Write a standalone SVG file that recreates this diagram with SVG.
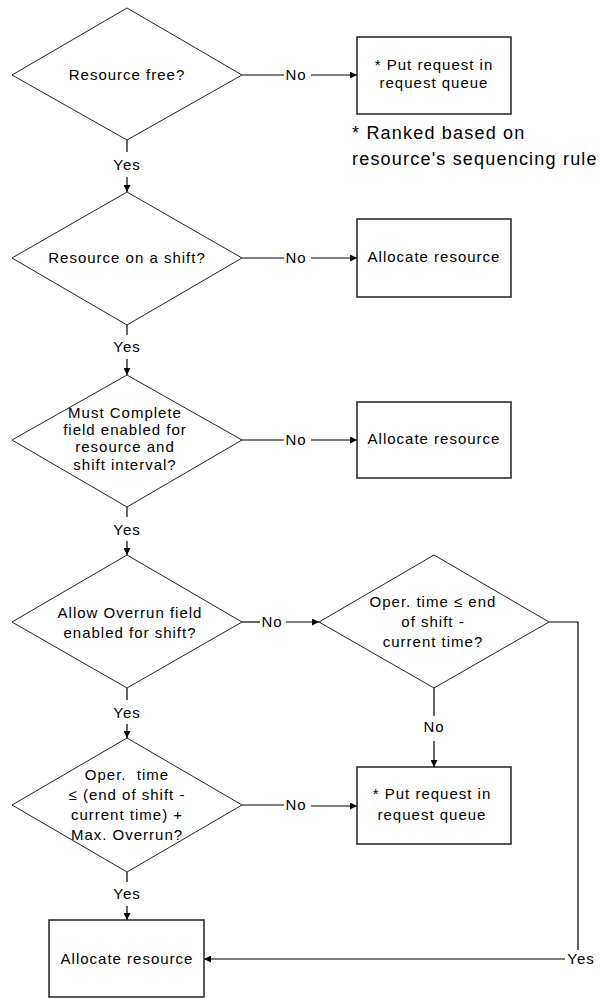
<svg xmlns="http://www.w3.org/2000/svg" width="600" height="998" viewBox="0 0 600 998">
<style>
text{font-family:"Liberation Sans",Arial,sans-serif;font-size:15px;letter-spacing:1px;fill:#000;text-anchor:middle}
.note{font-size:18px;letter-spacing:1.2px;text-anchor:start}
.dia{fill:#fff;stroke:#222;stroke-width:1}
.box{fill:#fff;stroke:#222;stroke-width:1.5}
.ln{fill:none;stroke:#000;stroke-width:1.2}
.ar{marker-end:url(#ah)}
</style>
<defs>
<marker id="ah" viewBox="0 0 10 10" refX="10" refY="5" markerWidth="7" markerHeight="7" markerUnits="userSpaceOnUse" orient="auto">
<path d="M0,0 L10,5 L0,10 Z" fill="#000"/>
</marker>
</defs>
<rect width="600" height="998" fill="#fff"/>
<g id="connectors">
<line class="ln" x1="127" y1="140" x2="127" y2="152"/>
<text x="127" y="170">Yes</text>
<line class="ln ar" x1="127" y1="177" x2="127" y2="192"/>
<line class="ln" x1="242" y1="75" x2="284" y2="75"/>
<text x="296" y="80">No</text>
<line class="ln ar" x1="311" y1="75" x2="357" y2="75"/>
<line class="ln" x1="127" y1="325" x2="127" y2="335"/>
<text x="127" y="352">Yes</text>
<line class="ln ar" x1="127" y1="359" x2="127" y2="375"/>
<line class="ln" x1="242" y1="258" x2="284" y2="258"/>
<text x="296" y="263">No</text>
<line class="ln ar" x1="311" y1="258" x2="357" y2="258"/>
<line class="ln" x1="127" y1="507" x2="127" y2="517"/>
<text x="127" y="535">Yes</text>
<line class="ln ar" x1="127" y1="541" x2="127" y2="555"/>
<line class="ln" x1="242" y1="440" x2="284" y2="440"/>
<text x="296" y="445">No</text>
<line class="ln ar" x1="311" y1="440" x2="357" y2="440"/>
<line class="ln" x1="242" y1="622" x2="260" y2="622"/>
<text x="272" y="627">No</text>
<line class="ln ar" x1="286" y1="622" x2="319" y2="622"/>
<polyline class="ln" points="549,622 578,622 578,950"/>
<text x="581" y="964">Yes</text>
<line class="ln ar" x1="565" y1="959" x2="204" y2="959"/>
<line class="ln" x1="434" y1="688" x2="434" y2="716"/>
<text x="434" y="732">No</text>
<line class="ln ar" x1="434" y1="741" x2="434" y2="767"/>
<line class="ln" x1="127" y1="688" x2="127" y2="700"/>
<text x="127" y="718">Yes</text>
<line class="ln ar" x1="127" y1="724" x2="127" y2="738"/>
<line class="ln" x1="242" y1="805" x2="284" y2="805"/>
<text x="296" y="810">No</text>
<line class="ln ar" x1="311" y1="806" x2="357" y2="806"/>
<line class="ln" x1="127" y1="872" x2="127" y2="882"/>
<text x="127" y="899">Yes</text>
<line class="ln ar" x1="127" y1="906" x2="127" y2="920"/>
</g>
<g id="d1">
<polygon class="dia" points="127,8 242,75 127,140 12,75"/>
<text x="127" y="80">Resource free?</text>
</g>
<g id="b1">
<rect class="box" x="357" y="37" width="154" height="77"/>
<text x="434" y="70">* Put request in</text>
<text x="434" y="88">request queue</text>
</g>
<g id="note">
<text class="note" x="352" y="139">* Ranked based on</text>
<text class="note" x="352" y="165">resource's sequencing rule</text>
</g>
<g id="d2">
<polygon class="dia" points="127,192 242,258 127,325 12,258"/>
<text x="127" y="263">Resource on a shift?</text>
</g>
<g id="b2">
<rect class="box" x="357" y="219" width="154" height="78"/>
<text x="434" y="262">Allocate resource</text>
</g>
<g id="d3">
<polygon class="dia" points="127,375 242,440 127,507 12,440"/>
<text x="125" y="418">Must Complete</text>
<text x="125" y="435">field enabled for</text>
<text x="125" y="452">resource and</text>
<text x="125" y="470">shift interval?</text>
</g>
<g id="b3">
<rect class="box" x="357" y="402" width="154" height="76"/>
<text x="434" y="444">Allocate resource</text>
</g>
<g id="d4">
<polygon class="dia" points="127,555 242,622 127,688 12,622"/>
<text x="130" y="618">Allow Overrun field</text>
<text x="130" y="638">enabled for shift?</text>
</g>
<g id="d5">
<polygon class="dia" points="434,555 549,622 434,688 319,622"/>
<text x="433" y="607">Oper. time ≤ end</text>
<text x="433" y="627">of shift -</text>
<text x="433" y="647">current time?</text>
</g>
<g id="b4">
<rect class="box" x="357" y="767" width="154" height="77"/>
<text x="432" y="799">* Put request in</text>
<text x="432" y="820">request queue</text>
</g>
<g id="d6">
<polygon class="dia" points="127,738 242,805 127,872 12,805"/>
<text x="127" y="780" style="white-space:pre" xml:space="preserve">Oper.  time</text>
<text x="127" y="800">≤ (end of shift -</text>
<text x="127" y="820">current time) +</text>
<text x="127" y="840">Max. Overrun?</text>
</g>
<g id="b5">
<rect class="box" x="49" y="920" width="155" height="77"/>
<text x="127" y="964">Allocate resource</text>
</g>
</svg>
